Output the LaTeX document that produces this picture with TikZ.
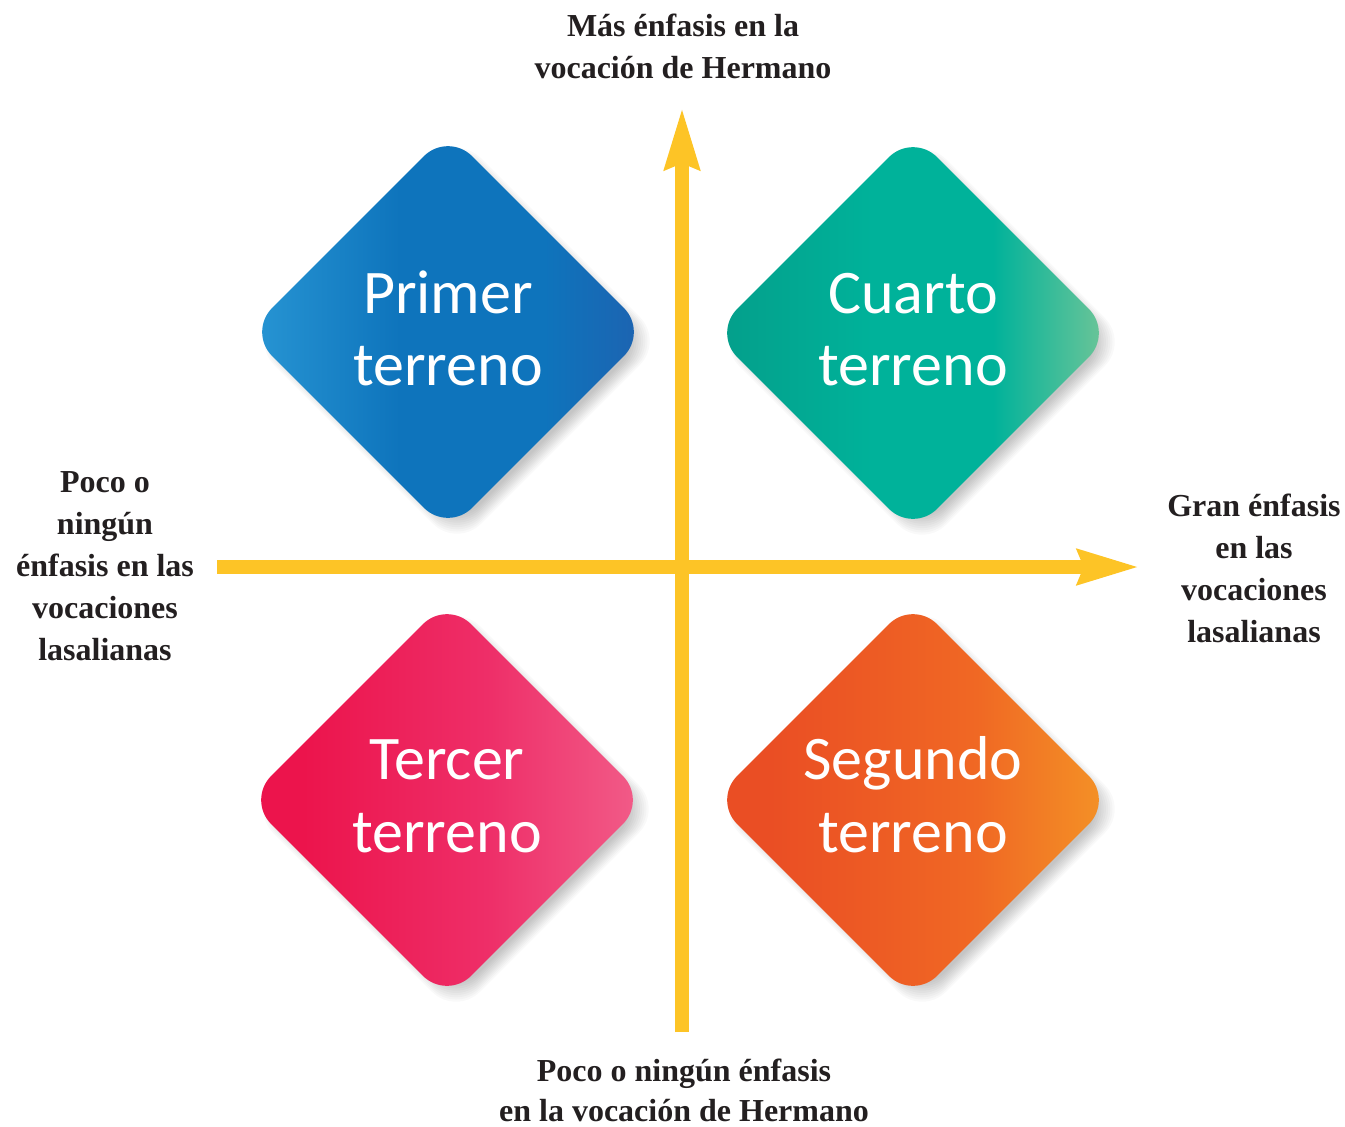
\documentclass[tikz,border=0pt]{standalone}
\usepackage{fontspec}
\setmainfont{Liberation Serif}
\newfontfamily\tilefont{Carlito}
\usetikzlibrary{arrows.meta,shapes.geometric}
\definecolor{axisyellow}{RGB}{253,196,38}
\definecolor{labelink}{RGB}{35,31,32}
\definecolor{blueL}{RGB}{40,150,212}
\definecolor{blueM}{RGB}{14,116,188}
\definecolor{blueR}{RGB}{30,98,176}
\definecolor{tealL}{RGB}{4,158,138}
\definecolor{tealM}{RGB}{0,178,154}
\definecolor{tealR}{RGB}{116,198,152}
\definecolor{pinkL}{RGB}{236,20,76}
\definecolor{pinkM}{RGB}{238,46,104}
\definecolor{pinkR}{RGB}{242,94,138}
\definecolor{oranL}{RGB}{234,78,36}
\definecolor{oranM}{RGB}{240,104,36}
\definecolor{oranR}{RGB}{244,148,38}
\pgfdeclarehorizontalshading{blueshade}{100bp}{color(0bp)=(blueL); color(25bp)=(blueL); color(44bp)=(blueM); color(62bp)=(blueM); color(75bp)=(blueR); color(100bp)=(blueR)}
\pgfdeclarehorizontalshading{tealshade}{100bp}{color(0bp)=(tealL); color(25bp)=(tealL); color(45bp)=(tealM); color(60bp)=(tealM); color(75bp)=(tealR); color(100bp)=(tealR)}
\pgfdeclarehorizontalshading{pinkshade}{100bp}{color(0bp)=(pinkL); color(25bp)=(pinkL); color(32bp)=(pinkL); color(55bp)=(pinkM); color(75bp)=(pinkR); color(100bp)=(pinkR)}
\pgfdeclarehorizontalshading{oranshade}{100bp}{color(0bp)=(oranL); color(25bp)=(oranL); color(32bp)=(oranL); color(58bp)=(oranM); color(75bp)=(oranR); color(100bp)=(oranR)}
\newcommand\tileshadow[2]{%
  \begin{scope}[shift={(#1+9,#2+9)}]
    \foreach \s in {0,...,9}{
      \pgfmathsetmacro\dd{187+2.2*\s}
      \fill[black, opacity=0.025, rounded corners=34pt]
        (0,-\dd) -- (\dd,0) -- (0,\dd) -- (-\dd,0) -- cycle;
    }
  \end{scope}}
\begin{document}
\begin{tikzpicture}[x=1pt,y=-1pt,
  lab/.style={anchor=base, inner sep=0pt, font=\bfseries\fontsize{32}{40}\selectfont, text=labelink},
  tiletext/.style={anchor=base, inner sep=0pt, font=\tilefont\fontsize{62}{72}\selectfont, text=white},
  tile/.style={diamond, minimum width=400pt, minimum height=400pt, inner sep=0pt, rounded corners=34pt, draw=none},
  axisarrow/.style={draw=axisyellow, line width=14pt, -{Stealth[width=33pt,length=61pt,inset=5pt]}}]
\useasboundingbox[fill=white] (0,0) rectangle (1345,1127);

% shadows
\tileshadow{448}{332}
\tileshadow{913}{333}
\tileshadow{447}{800}
\tileshadow{913}{800}

% tiles
\node[tile, shading=blueshade] (primer) at (448,332) {};
\node[tile, shading=tealshade] (cuarto) at (913,333) {};
\node[tile, shading=pinkshade] (tercer) at (447,800) {};
\node[tile, shading=oranshade] (segundo) at (913,800) {};

\node[tiletext] (primerA) at (448,313) {Primer};
\node[tiletext] (primerB) at (448,385) {terreno};
\node[tiletext] (cuartoA) at (913,313) {Cuarto};
\node[tiletext] (cuartoB) at (913,385) {terreno};
\node[tiletext] (tercerA) at (447,779) {Tercer};
\node[tiletext] (tercerB) at (447,852) {terreno};
\node[tiletext] (segundoA) at (913,779) {Segundo};
\node[tiletext] (segundoB) at (913,852) {terreno};

% axes
\coordinate (vS) at (682,1032);
\coordinate (vN) at (682,107);
\coordinate (hW) at (217,567);
\coordinate (hE) at (1140,567);
\draw[axisarrow] (vS) -- (vN);
\draw[axisarrow] (hW) -- (hE);

% labels
\node[lab] (topA) at (683,36) {Más énfasis en la};
\node[lab] (topB) at (683,78) {vocación de Hermano};

\node[lab] (leftA) at (105,492) {Poco o};
\node[lab] (leftB) at (105,534) {ningún};
\node[lab] (leftC) at (105,576) {énfasis en las};
\node[lab] (leftD) at (105,618) {vocaciones};
\node[lab] (leftE) at (105,660) {lasalianas};

\node[lab] (rightA) at (1254,516) {Gran énfasis};
\node[lab] (rightB) at (1254,558) {en las};
\node[lab] (rightC) at (1254,600) {vocaciones};
\node[lab] (rightD) at (1254,642) {lasalianas};

\node[lab] (botA) at (684,1081) {Poco o ningún énfasis};
\node[lab] (botB) at (684,1121) {en la vocación de Hermano};
\end{tikzpicture}
\end{document}
